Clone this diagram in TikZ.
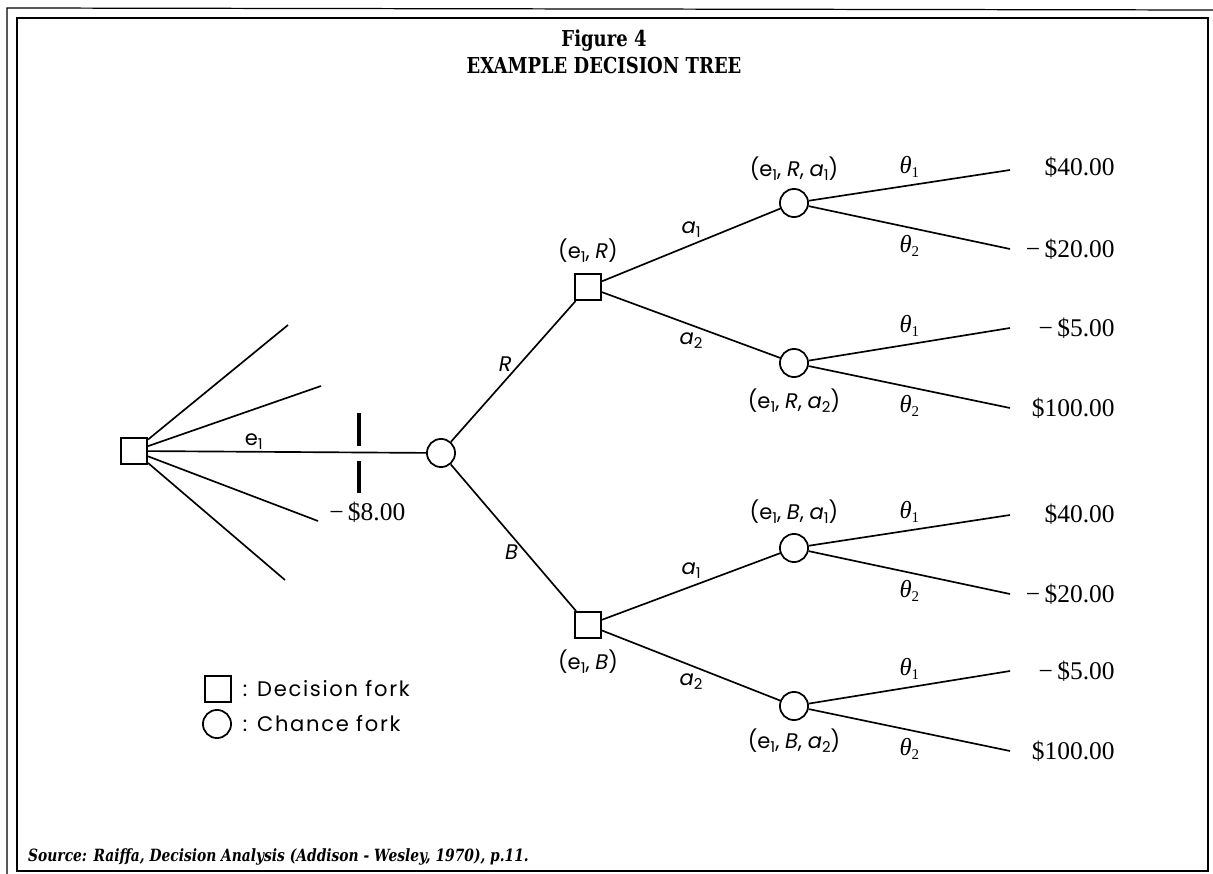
\documentclass[tikz,border=0pt]{standalone}
\usepackage{fontspec}
\setmainfont{Liberation Serif}
\newfontfamily\slabfont[FakeStretch=0.82]{DejaVu Serif}
\newfontfamily\geofont{Poppins}
\newfontfamily\geowide[LetterSpace=8]{Poppins}
\newcommand\sbs[1]{\raisebox{-0.35ex}{\fontsize{8.5}{9}\selectfont #1}}
\usetikzlibrary{positioning}

\begin{document}
\begin{tikzpicture}[
    x=0.02cm, y=-0.02cm,
    dec/.style={draw, line width=1pt, minimum size=15pt, inner sep=0pt},
    chance/.style={draw, circle, line width=1pt, minimum size=16pt, inner sep=0pt},
    br/.style={line width=0.95pt},
    lab/.style={font=\geofont\fontsize{12}{14}\selectfont, inner sep=1pt},
    key/.style={font=\geowide\fontsize{12}{14}\selectfont, inner sep=0pt},
    th/.style={font=\itshape\fontsize{14}{16}\selectfont, inner sep=1pt},
    pay/.style={anchor=east, font=\fontsize{14.5}{17}\selectfont, inner sep=0pt},
    toll/.style={line width=2.3pt}
  ]
    \useasboundingbox (0,0) rectangle (1213,874);

    % frames
    \draw[line width=0.7pt] (7,874) -- (7,8) -- (1213,10);
    \draw[line width=0.9pt] (17,18) rectangle (1208,871);

    % title
    \node[font=\slabfont\bfseries\fontsize{12.5}{15.3}\selectfont, align=center] (title) at (604,52)
      {Figure 4\\EXAMPLE DECISION TREE};

    % forks
    \node[dec] (d0) at (134,451) {};
    \node[chance] (c0) at (441,453) {};
    \node[dec] (dR) at (588,287) {};
    \node[dec] (dB) at (588,625) {};
    \node[chance] (cRa1) at (794,203) {};
    \node[chance] (cRa2) at (794,363) {};
    \node[chance] (cBa1) at (794,548) {};
    \node[chance] (cBa2) at (794,706) {};

    % fork labels
    \node[lab, above=5pt of dR] (ldR) {(e\sbs{1}, \textit{R})};
    \node[lab, below=5pt of dB] (ldB) {(e\sbs{1}, \textit{B})};
    \node[lab, above=3pt of cRa1] (lRa1) {(e\sbs{1}, \textit{R}, \textit{a}\sbs{1})};
    \node[lab, below=5pt of cRa2] (lRa2) {(e\sbs{1}, \textit{R}, \textit{a}\sbs{2})};
    \node[lab, above=4pt of cBa1] (lBa1) {(e\sbs{1}, \textit{B}, \textit{a}\sbs{1})};
    \node[lab, below=3pt of cBa2] (lBa2) {(e\sbs{1}, \textit{B}, \textit{a}\sbs{2})};

    % other experiments
    \coordinate (f1) at (288,325);
    \coordinate (f2) at (321,386);
    \coordinate (f3) at (318,521);
    \coordinate (f4) at (285,580);
    \foreach \f in {f1,f2,f3,f4} \draw[br] (d0) -- (\f);

    % experiment e1 and its cost
    \draw[br] (d0) -- node[lab, above, pos=0.38] (le1) {e\sbs{1}} (c0);
    \draw[toll] (359,413) -- (359,446) (359,461) -- (359,493);
    \node[pay, anchor=west] (cost) at (329,512) {−\,\$8.00};

    % outcomes of e1
    \draw[br] (c0) -- node[lab, left=3pt, pos=0.55] (lR) {\textit{R}} (dR);
    \draw[br] (c0) -- node[lab, left=3pt, pos=0.6] (lB) {\textit{B}} (dB);

    % acts
    \foreach \d/\ca/\cb in {dR/cRa1/cRa2, dB/cBa1/cBa2} {
      \draw[br] (\d) -- node[lab, above=3pt] {\textit{a}\sbs{1}} (\ca);
      \draw[br] (\d) -- node[lab, below=3pt] {\textit{a}\sbs{2}} (\cb);
    }

    % payoffs
    \coordinate (t1) at (1010,170);
    \coordinate (t2) at (1010,249);
    \coordinate (t3) at (1010,328);
    \coordinate (t4) at (1010,408);
    \coordinate (t5) at (1010,515);
    \coordinate (t6) at (1010,594);
    \coordinate (t7) at (1010,671);
    \coordinate (t8) at (1010,751);
    \foreach \c/\a/\b in {cRa1/1/2, cRa2/3/4, cBa1/5/6, cBa2/7/8} {
      \draw[br] (\c) -- node[th, above=3pt] {θ\sbs{\upshape 1}} (t\a);
      \draw[br] (\c) -- node[th, below=3pt] {θ\sbs{\upshape 2}} (t\b);
    }
    \node[pay] (p1) at (1115,167) {\$40.00};
    \node[pay] (p2) at (1115,249) {−\,\$20.00};
    \node[pay] (p3) at (1115,328) {−\,\$5.00};
    \node[pay] (p4) at (1115,408) {\$100.00};
    \node[pay] (p5) at (1115,514) {\$40.00};
    \node[pay] (p6) at (1115,594) {−\,\$20.00};
    \node[pay] (p7) at (1115,671) {−\,\$5.00};
    \node[pay] (p8) at (1115,751) {\$100.00};

    % legend
    \node[dec] (ksq) at (218,689) {};
    \node[chance] (kci) at (217,724) {};
    \node[key, right=6pt of ksq] (kdec) {: Decision fork};
    \node[key, right=6pt of kci] (kch) {: Chance fork};

    % source
    \node[anchor=west, font=\slabfont\bfseries\itshape\fontsize{9.6}{11}\selectfont] (src) at (22,857)
      {Source: Raiffa, Decision Analysis (Addison - Wesley, 1970), p.11.};
  \end{tikzpicture}
\end{document}
